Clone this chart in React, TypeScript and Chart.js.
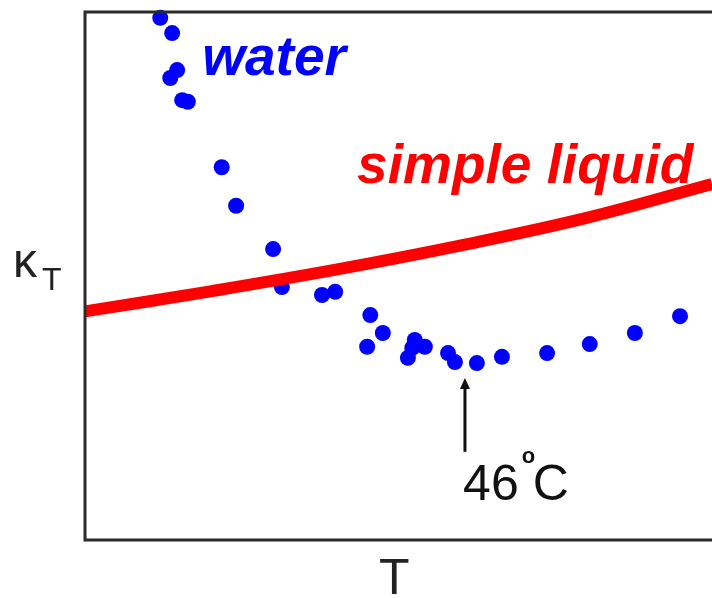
import React, { useEffect, useRef } from "react";
import { Chart, registerables } from "chart.js";

Chart.register(...registerables);

// Water compressibility (arbitrary units): temperature vs kappa_T
const waterT = [12.0, 13.9, 14.7, 13.6, 15.5, 16.4, 21.8, 24.1, 30.0, 31.4, 37.8, 39.9, 45.5, 47.5, 45.0, 52.6, 54.2, 51.5, 52.2, 57.9, 59.0, 62.5, 66.5, 73.7, 80.5, 87.7, 94.9];
const waterK = [98.9, 96.0, 89.0, 87.5, 83.3, 83.0, 70.6, 63.3, 55.1, 47.9, 46.4, 47.0, 42.6, 39.2, 36.6, 37.9, 36.6, 34.5, 36.4, 35.4, 33.7, 33.5, 34.7, 35.4, 37.1, 39.2, 42.4];

// Simple liquid curve
const simpleT = [0, 20, 40, 60, 80, 100];
const simpleK = [43.3, 47.1, 51.2, 55.8, 61.0, 67.4];

// Annotation values
const minT = 60.6; // 46 °C minimum
const arrowFrom = 16.7;
const arrowTo = 30.7;
const waterLabel = { text: "water", x: 18.7, y: 88.1 };
const simpleLabel = { text: "simple liquid", x: 43.4, y: 67.6 };
const minLabel = { x: 60.3, y: 7.6 };

const FONT = "'Liberation Sans', Arial, sans-serif";

const overlay = {
  id: "overlay",
  afterDraw(chart: any) {
    const { ctx, chartArea, scales } = chart;
    const xs = scales.x;
    const ys = scales.y;
    ctx.save();
    // frame (left, top, bottom)
    ctx.strokeStyle = "#2b2b2b";
    ctx.lineWidth = 3;
    ctx.beginPath();
    ctx.moveTo(chart.width + 5, chartArea.top);
    ctx.lineTo(chartArea.left, chartArea.top);
    ctx.lineTo(chartArea.left, chartArea.bottom);
    ctx.lineTo(chart.width + 5, chartArea.bottom);
    ctx.stroke();

    // labels
    ctx.textBaseline = "alphabetic";
    ctx.textAlign = "left";
    ctx.fillStyle = "#0000ff";
    ctx.font = "italic bold 55px " + FONT;
    ctx.fillText(waterLabel.text, xs.getPixelForValue(waterLabel.x), ys.getPixelForValue(waterLabel.y));
    ctx.fillStyle = "#ff0000";
    ctx.fillText(simpleLabel.text, xs.getPixelForValue(simpleLabel.x), ys.getPixelForValue(simpleLabel.y));

    // arrow
    const ax = xs.getPixelForValue(minT);
    const ay0 = ys.getPixelForValue(arrowFrom);
    const ay1 = ys.getPixelForValue(arrowTo);
    ctx.strokeStyle = "#111";
    ctx.fillStyle = "#111";
    ctx.lineWidth = 3;
    ctx.beginPath();
    ctx.moveTo(ax, ay0);
    ctx.lineTo(ax, ay1 + 8);
    ctx.stroke();
    ctx.beginPath();
    ctx.moveTo(ax, ay1);
    ctx.lineTo(ax - 5, ay1 + 11);
    ctx.lineTo(ax + 5, ay1 + 11);
    ctx.closePath();
    ctx.fill();

    // 46°C
    const lx = xs.getPixelForValue(minLabel.x);
    const ly = ys.getPixelForValue(minLabel.y);
    ctx.font = "50px " + FONT;
    ctx.fillText("46", lx, ly);
    const w46 = ctx.measureText("46").width;
    ctx.font = "bold 22px " + FONT;
    ctx.fillText("o", lx + w46 + 3, ly - 37);
    ctx.font = "50px " + FONT;
    ctx.fillText("C", lx + w46 + 14, ly);

    // axis titles
    ctx.fillStyle = "#222";
    ctx.font = "48px " + FONT;
    ctx.fillText("\u03ba", 13, 277);
    ctx.font = "32px " + FONT;
    ctx.fillText("T", 42, 290);
    ctx.font = "50px " + FONT;
    ctx.fillText("T", 379, 594);
    ctx.restore();
  },
};

export default function App() {
  const ref = useRef<HTMLCanvasElement>(null);
  useEffect(() => {
    document.body.style.margin = "0";
    document.body.style.background = "#fff";
    const canvas = ref.current!;
    const chart = new Chart(canvas, {
      type: "scatter",
      data: {
        datasets: [
          {
            type: "line",
            label: "simple liquid",
            data: simpleT.map((t, i) => ({ x: t, y: simpleK[i] })),
            borderColor: "#ff0000",
            borderWidth: 12,
            pointRadius: 0,
            tension: 0.4,
            fill: false,
            order: 0,
            clip: false,
          } as any,
          {
            label: "water",
            data: waterT.map((t, i) => ({ x: t, y: waterK[i] })),
            backgroundColor: "#0000ff",
            borderColor: "#0000ff",
            pointRadius: 8,
            pointBorderWidth: 0,
            order: 1,
            clip: false,
          } as any,
        ],
      },
      options: {
        responsive: false,
        animation: false,
        layout: { autoPadding: false, padding: { left: 85, top: 12, right: 0, bottom: 58 } },
        plugins: { legend: { display: false }, tooltip: { enabled: false } },
        scales: {
          x: { type: "linear", min: 0, max: 100, display: false },
          y: { type: "linear", min: 0, max: 100, display: false },
        },
      },
      plugins: [overlay],
    });
    return () => chart.destroy();
  }, []);
  return <canvas ref={ref} width={712} height={598} style={{ display: "block" }} />;
}
